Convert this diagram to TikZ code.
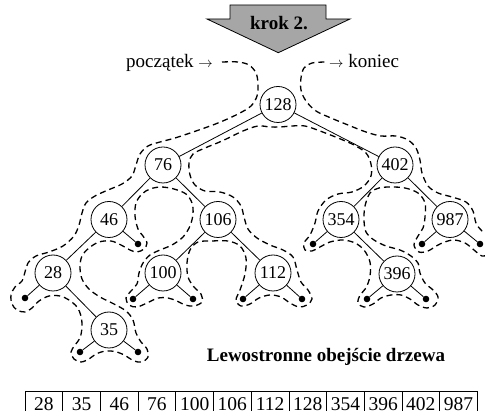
\documentclass[tikz,border=0pt]{standalone}
\usepackage{fontspec}
\setmainfont{Liberation Serif}
\definecolor{arrowgray}{RGB}{166,166,166}
\newcommand{\txtarrow}{{\fontsize{15pt}{15pt}\selectfont$\rightarrow$}}
\begin{document}
\begin{tikzpicture}[x=1pt,y=-1pt,
  tnode/.style={circle,draw,line width=0.8pt,fill=white,minimum size=36pt,inner sep=0pt,font=\fontsize{18pt}{20pt}\selectfont},
  leafdot/.style={circle,fill=black,minimum size=6.6pt,inner sep=0pt},
  edge/.style={line width=0.8pt},
  contour/.style={line width=1.3pt,dash pattern=on 6pt off 4pt},
  lbl/.style={font=\fontsize{19pt}{21pt}\selectfont,inner sep=0pt},
  blbl/.style={font=\fontsize{19pt}{21pt}\selectfont\bfseries,inner sep=0pt},
  cellbox/.style={draw,line width=0.8pt,minimum width=37.7pt,minimum height=28pt,inner sep=0pt},
  celltext/.style={font=\fontsize{19.5pt}{21pt}\selectfont,inner sep=0pt,anchor=base}
]
\path[use as bounding box, clip] (0,0) rectangle (485,411);
\fill[white] (0,0) rectangle (485,411);

% step arrow
\draw[fill=arrowgray,line width=0.8pt] (230,5) -- (326,5) -- (326,19) -- (350,19) -- (278.3,52.7) -- (207,19) -- (230,19) -- cycle;
\node[blbl,anchor=base] (krok) at (279,30) {krok 2.};

% labels
\node[lbl,anchor=base west] (start) at (126,68) {początek \txtarrow};
\node[lbl,anchor=base west] (stop) at (329,68) {\txtarrow\ koniec};
\node[blbl,anchor=base] (title) at (326,362) {Lewostronne obejście drzewa};

% contour
\draw[contour] plot[smooth,tension=0.55] coordinates {
(222,62) (238,62) (249,65) (256,73) (258,84) (257,96) (251,106) (238,114) (218,123) (196,131) (175,138) (160,142) (148,146) (140,154) (136,165) (132,176) (122,184) (108,190) (95,196) (86,203) (82,213) (79,225) (74,236) (63,246) (49,252) (36,256) (28,263) (25,272) (22,281) (15,287) (11,295) (12,304) (17,310) (25,312) (32,308) (39,301) (49,296) (60,296) (69,300) (77,307) (81,316) (82,327) (80,338) (75,345) (71,352) (74,359) (81,362) (89,359) (96,354) (106,351) (117,352) (126,356) (134,361) (142,362) (148,357) (147,349) (141,342) (136,333) (133,320) (126,311) (114,304) (100,297) (89,289) (82,279) (80,267) (82,256) (89,248) (99,242) (111,241) (121,245) (130,250) (137,252) (144,249) (147,243) (143,236) (138,229) (135,216) (136,203) (142,194) (150,189) (161,187) (174,189) (186,194) (192,203) (193,214) (190,226) (183,237) (172,245) (160,250) (150,255) (143,263) (139,273) (137,284) (131,291) (126,298) (129,305) (137,307) (147,303) (158,298) (168,298) (177,301) (185,305) (194,306) (202,302) (201,294) (194,287) (188,277) (187,263) (190,250) (198,242) (212,241) (228,241) (240,246) (246,258) (245,274) (240,290) (236,300) (241,306) (250,304) (259,298) (270,295) (281,297) (290,303) (299,307) (307,305) (312,299) (308,290) (301,282) (297,270) (293,257) (283,250) (270,245) (257,238) (248,229) (244,217) (241,206) (233,197) (220,192) (205,191) (195,185) (190,175) (189,163) (193,154) (205,148) (222,141) (243,131) (258,126) (270,127) (280,127) (292,126) (305,126) (320,131) (338,138) (354,145) (366,153) (371,164) (371,176) (364,186) (352,192) (338,194) (326,200) (318,211) (315,223) (310,235) (304,243) (305,250) (312,251) (320,247) (330,242) (343,240) (355,243) (364,250) (370,262) (370,276) (366,288) (360,295) (358,303) (364,307) (373,304) (381,298) (391,295) (401,295) (410,299) (418,305) (427,308) (435,305) (438,297) (433,290) (425,283) (420,273) (418,263) (411,256) (400,250) (386,246) (374,240) (366,232) (364,220) (365,206) (370,193) (379,188) (391,187) (405,188) (418,193) (425,203) (425,217) (423,228) (418,236) (414,245) (419,252) (428,251) (440,244) (453,240) (465,243) (474,250) (482,256) (490,254) (494,246) (491,236) (482,231) (476,223) (473,211) (466,202) (452,197) (438,193) (428,186) (422,173) (420,160) (416,148) (408,140) (396,136) (381,136) (366,132) (348,125) (331,118) (316,111) (306,101) (301,90) (301,78) (304,68) (312,63) (326,62)
};

% tree nodes
\node[tnode] (n128) at (278,104.5) {128};
\node[tnode] (n76)  at (163,165) {76};
\node[tnode] (n402) at (395,165) {402};
\node[tnode] (n46)  at (109,219.5) {46};
\node[tnode] (n106) at (218,219.5) {106};
\node[tnode] (n354) at (341,219.5) {354};
\node[tnode] (n987) at (450,219.5) {987};
\node[tnode] (n28)  at (53,273) {28};
\node[tnode] (n100) at (163,273) {100};
\node[tnode] (n112) at (273,273) {112};
\node[tnode] (n396) at (397,274) {396};
\node[tnode] (n35)  at (109,330) {35};

% null leaves
\node[leafdot] (l46r)  at (138,244) {};
\node[leafdot] (l28l)  at (25,298) {};
\node[leafdot] (l35l)  at (80,352) {};
\node[leafdot] (l35r)  at (138,352) {};
\node[leafdot] (l100l) at (133,299) {};
\node[leafdot] (l100r) at (193,299) {};
\node[leafdot] (l112l) at (243,299) {};
\node[leafdot] (l112r) at (302,299) {};
\node[leafdot] (l396l) at (367,299) {};
\node[leafdot] (l396r) at (426,299) {};
\node[leafdot] (l354l) at (313,244) {};
\node[leafdot] (l987l) at (422,244) {};
\node[leafdot] (l987r) at (480,244) {};

% edges
\draw[edge] (n128) -- (n76);
\draw[edge] (n128) -- (n402);
\draw[edge] (n76) -- (n46);
\draw[edge] (n76) -- (n106);
\draw[edge] (n46) -- (n28);
\draw[edge] (n46) -- (l46r);
\draw[edge] (n28) -- (l28l);
\draw[edge] (n28) -- (n35);
\draw[edge] (n35) -- (l35l);
\draw[edge] (n35) -- (l35r);
\draw[edge] (n106) -- (n100);
\draw[edge] (n106) -- (n112);
\draw[edge] (n100) -- (l100l);
\draw[edge] (n100) -- (l100r);
\draw[edge] (n112) -- (l112l);
\draw[edge] (n112) -- (l112r);
\draw[edge] (n402) -- (n354);
\draw[edge] (n402) -- (n987);
\draw[edge] (n354) -- (l354l);
\draw[edge] (n354) -- (n396);
\draw[edge] (n396) -- (l396l);
\draw[edge] (n396) -- (l396r);
\draw[edge] (n987) -- (l987l);
\draw[edge] (n987) -- (l987r);

% result table
\foreach \v [count=\i] in {28,35,46,76,100,106,112,128,354,396,402,987} {
  \node[cellbox] (c\i) at ({25+37.7*(\i-0.5)},405) {};
  \node[celltext] (t\i) at ({25+37.7*(\i-0.5)},410.5) {\v};
}
\end{tikzpicture}
\end{document}
